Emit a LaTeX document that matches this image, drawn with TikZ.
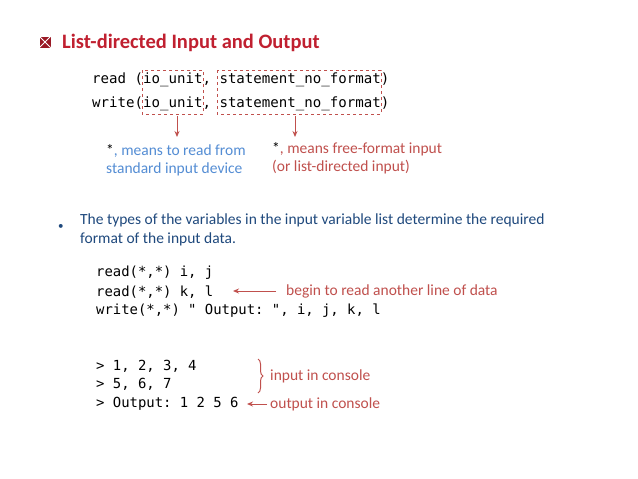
\documentclass[tikz,border=0pt]{standalone}
\usepackage{fontspec}
\setmainfont{Carlito}
\setmonofont{DejaVu Sans Mono}
\usetikzlibrary{arrows.meta,decorations.pathreplacing}
\definecolor{tred}{RGB}{192,32,48}
\definecolor{lred}{RGB}{192,80,77}
\definecolor{lblue}{RGB}{84,141,212}
\definecolor{dblue}{RGB}{31,73,125}
\begin{document}
\begin{tikzpicture}[x=1pt,y=-1pt,
  code/.style={anchor=west,inner sep=0,font=\fontsize{13.9}{15}\ttfamily},
  codeb/.style={anchor=west,inner sep=0,font=\fontsize{14.1}{16}\ttfamily},
  lab/.style={anchor=west,inner sep=0,font=\fontsize{15.5}{18.5}\selectfont,align=left},
  dbox/.style={draw=lred,dashed,line width=1pt},
  arr/.style={draw=lred,-{Stealth[length=6pt,width=5pt]},line width=1pt}]
\useasboundingbox (0,0) rectangle (638,479);
\fill[white] (0,0) rectangle (638,479);
\node[fill=tred!80!black,minimum size=11pt,inner sep=0] (ic) at (45,42) {};
\draw[white,line width=0.8pt] (ic.north west) -- (ic.south east) (ic.north east) -- (ic.south west);
\node[anchor=west,inner sep=0,font=\fontsize{20.5}{24}\bfseries,text=tred] (title) at (62,43) {List-directed Input and Output};
\node[codeb] (r1) at (92,80) {read (io\_unit, statement\_no\_format)};
\node[codeb] (r2) at (92,104) {write(io\_unit, statement\_no\_format)};
\draw[dbox] (142,70) rectangle (203,114);
\draw[dbox] (217,70) rectangle (381,114);
\coordinate (a1) at (177,116); \coordinate (a2) at (295,116);
\node[lab,text=lblue] (l1) at (106,160) {\textcolor{black}{*}, means to read from\\standard input device};
\node[lab,text=lred] (l2) at (272,158) {\textcolor{black}{*}, means free-format input\\(or list-directed input)};
\draw[arr] (a1) -- (177,137);
\draw[arr] (a2) -- (295,137);
\node[lab,font=\fontsize{11}{12}\selectfont] (bul) at (58,227) {\textcolor{dblue}{•}};
\node[lab,text=dblue,anchor=north west] (btxt) at (80,214) {The types of the variables in the input variable list determine the required\\format of the input data.};
\node[code] (c1) at (96,273) {read(*,*) i, j};
\node[code] (c2) at (96,292) {read(*,*) k, l};
\node[code] (c3) at (96,311) {write(*,*) " Output: ", i, j, k, l};
\node[lab,text=lred] (t1) at (286,291) {begin to read another line of data};
\draw[arr] (t1.west) ++(-10,0) coordinate (t1s) -- (233,291);
\node[code] (k1) at (96,366) {> 1, 2, 3, 4};
\node[code] (k2) at (96,384) {> 5, 6, 7};
\node[code] (k3) at (96,404) {> Output: 1 2 5 6};
\draw[lred,line width=1pt,decorate,decoration={brace,amplitude=5pt}] (258,359) -- (258,393);
\node[lab,text=lred] (t2) at (270,376) {input in console};
\node[lab,text=lred] (t3) at (270,404) {output in console};
\draw[arr] (t3.west) ++(-3,0) -- (247,404);
\end{tikzpicture}
\end{document}
